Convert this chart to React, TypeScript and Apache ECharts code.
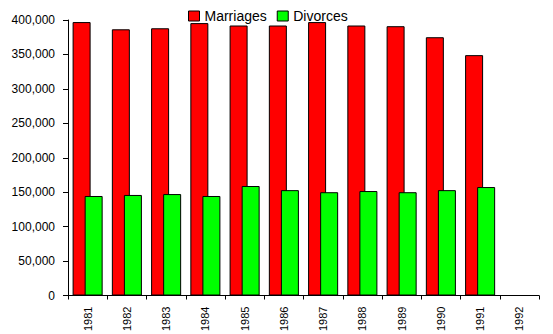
import React, { useEffect, useRef } from "react";
import * as echarts from "echarts";

const years = ["1981", "1982", "1983", "1984", "1985", "1986", "1987", "1988", "1989", "1990", "1991", "1992"];
const marriages = [397000, 386500, 388000, 395500, 392000, 392000, 397000, 392000, 391000, 375000, 349000, null];
const divorces = [144500, 146000, 147300, 144500, 159000, 153000, 150000, 151700, 150000, 153000, 157500, null];
const yTicks = { min: 0, max: 400000, interval: 50000 };

export default function App() {
  const ref = useRef<HTMLDivElement>(null);
  useEffect(() => {
    const chart = echarts.init(ref.current!, null, { renderer: "svg" });
    const font = "'Liberation Sans', Arial, sans-serif";
    chart.setOption({
      animation: false,
      backgroundColor: "#ffffff",
      textStyle: { fontFamily: font },
      legend: {
        left: 183,
        top: 4,
        itemWidth: 11,
        itemHeight: 10,
        itemGap: 10,
        icon: "rect",
        textStyle: { color: "#000", fontSize: 14, fontFamily: font, padding: [2, 0, 0, 0] },
        data: [
          { name: "Marriages", itemStyle: { color: "#ff0000", borderColor: "#000", borderWidth: 1 } },
          { name: "Divorces", itemStyle: { color: "#00ff00", borderColor: "#000", borderWidth: 1 } },
        ],
      },
      grid: { left: 68, right: 14, top: 20, bottom: 38, containLabel: false },
      xAxis: {
        type: "category",
        data: years,
        boundaryGap: true,
        axisLine: { lineStyle: { color: "#000", width: 1 } },
        axisTick: { show: true, length: 4, lineStyle: { color: "#000" } },
        axisLabel: { rotate: 90, color: "#000", fontSize: 11, fontFamily: font, margin: 11, interval: 0 },
        splitLine: { show: false },
      },
      yAxis: {
        type: "value",
        min: yTicks.min,
        max: yTicks.max,
        interval: yTicks.interval,
        axisLine: { show: true, lineStyle: { color: "#000", width: 1 } },
        axisTick: { show: true, length: 5, lineStyle: { color: "#000" } },
        axisLabel: {
          color: "#000",
          fontSize: 12,
          fontFamily: font,
          margin: 13,
          formatter: (v: number) => v.toLocaleString("en-US"),
        },
        splitLine: { show: false },
      },
      series: [
        {
          name: "Marriages",
          type: "bar",
          data: marriages,
          barWidth: 18,
          barGap: "-33%",
          itemStyle: { color: "#ff0000", borderColor: "#000", borderWidth: 1 },
        },
        {
          name: "Divorces",
          type: "bar",
          data: divorces,
          barWidth: 18,
          itemStyle: { color: "#00ff00", borderColor: "#000", borderWidth: 1 },
        },
      ],
    });
    return () => chart.dispose();
  }, []);
  return <div ref={ref} style={{ width: 553, height: 334, position: "absolute", left: 0, top: 0 }} />;
}
